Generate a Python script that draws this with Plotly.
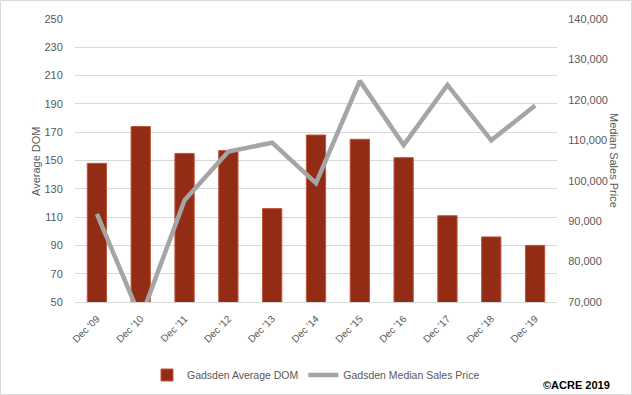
import plotly.graph_objects as go

categories = ["Dec '09", "Dec '10", "Dec '11", "Dec '12", "Dec '13", "Dec '14",
              "Dec '15", "Dec '16", "Dec '17", "Dec '18", "Dec '19"]
avg_dom = [148, 174, 155, 157, 116, 168, 165, 152, 111, 96, 90]
median_price = [91800, 66000, 95200, 107200, 109400, 99400, 124700, 108800, 123700, 110000, 118600]

dom_ticks = list(range(50, 251, 20))
price_ticks = list(range(70000, 140001, 10000))

W, H = 632, 395
L, R, T, B = 75, 75, 19, 93
pw, ph = W - L - R, H - T - B

def px_x(x):
    return (x - L) / pw

def px_y(y):
    return (H - B - y) / ph

font_fam = "Liberation Sans, Arial, sans-serif"
gray_txt = "#595959"

fig = go.Figure()
fig.add_trace(go.Bar(
    x=categories, y=avg_dom, name="Gadsden Average DOM",
    marker=dict(color="#922C15", line=dict(color="#C0553A", width=1)),
    width=0.44, yaxis="y",
))
fig.add_trace(go.Scatter(
    x=categories, y=median_price, name="Gadsden Median Sales Price",
    mode="lines", line=dict(color="#A5A5A5", width=4.5), yaxis="y2",
))

fig.update_layout(
    width=W, height=H,
    margin=dict(l=L, r=R, t=T, b=B, autoexpand=False),
    paper_bgcolor="white", plot_bgcolor="white",
    font=dict(family=font_fam, size=11, color=gray_txt),
    showlegend=True,
    legend=dict(orientation="h", x=0.5, xanchor="center", y=px_y(375), yanchor="middle",
                font=dict(size=10.5, color=gray_txt), itemwidth=30, tracegroupgap=0),
    xaxis=dict(tickangle=-45, showgrid=False, showline=True, linecolor="#D9D9D9",
               ticks="outside", ticklen=6, tickcolor="rgba(0,0,0,0)",
               tickfont=dict(size=10, color=gray_txt)),
    yaxis=dict(range=[50, 250], tickvals=dom_ticks, showgrid=True, gridcolor="#D9D9D9",
               zeroline=False, ticks="outside", ticklen=9, tickcolor="rgba(0,0,0,0)",
               tickfont=dict(size=11, color=gray_txt)),
    yaxis2=dict(range=[70000, 140000], tickvals=price_ticks, overlaying="y", side="right",
                showgrid=False, zeroline=False, tickformat=",",
                ticks="outside", ticklen=8, tickcolor="rgba(0,0,0,0)",
                tickfont=dict(size=11, color=gray_txt)),
    bargap=0.56,
)

fig.add_annotation(text="Average DOM", textangle=-90, x=px_x(36), y=px_y(161),
                   xanchor="center", yanchor="middle",
                   xref="paper", yref="paper", showarrow=False,
                   font=dict(size=11, color=gray_txt))
fig.add_annotation(text="Median Sales Price", textangle=90, x=px_x(614), y=px_y(160),
                   xanchor="center", yanchor="middle",
                   xref="paper", yref="paper", showarrow=False,
                   font=dict(size=11, color=gray_txt))
fig.add_annotation(text="<b>©ACRE 2019</b>", x=px_x(612), xanchor="right",
                   y=px_y(385), yanchor="middle",
                   xref="paper", yref="paper", showarrow=False,
                   font=dict(size=11, color="#000000"))

fig.add_shape(type="rect", xref="paper", yref="paper",
              x0=px_x(0.5), x1=px_x(W - 0.5), y0=px_y(H - 0.5), y1=px_y(0.5),
              line=dict(color="#D9D9D9", width=1), layer="below")

fig.write_html("out.html", config={"displayModeBar": False},
               post_script="document.body.style.margin='0';")
